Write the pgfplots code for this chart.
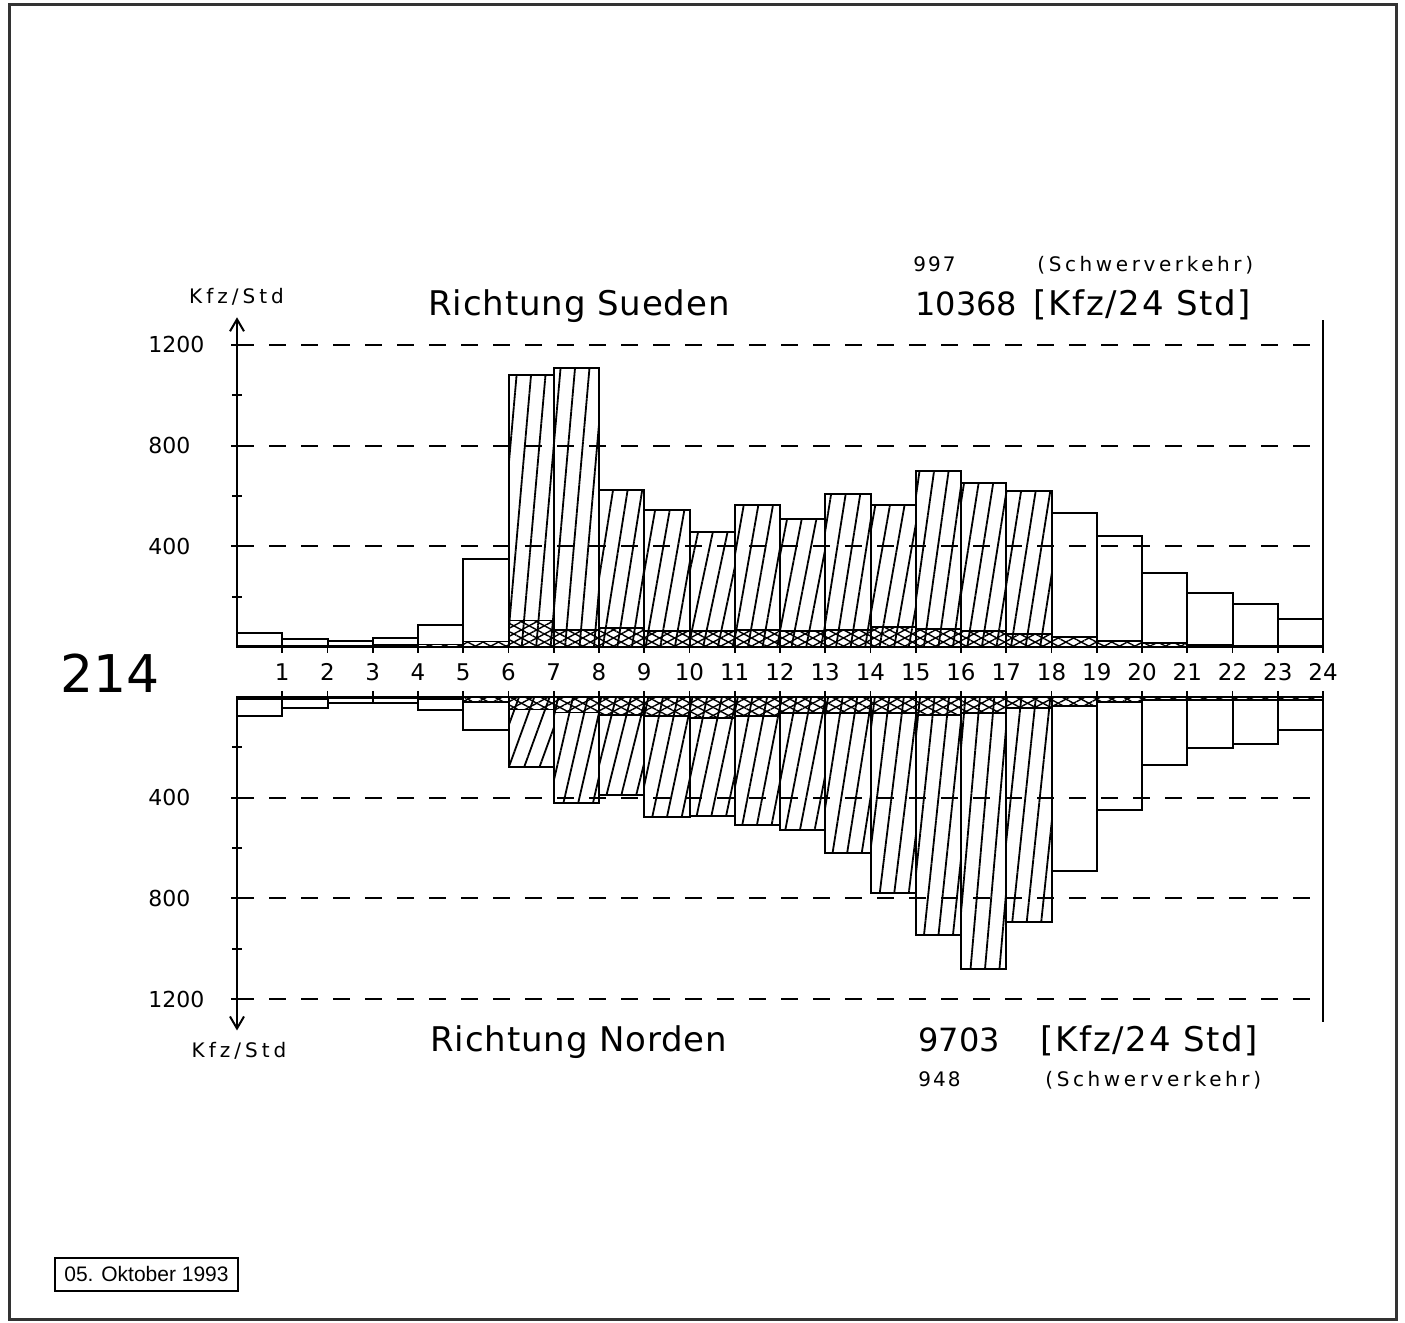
\documentclass[border=0pt]{standalone}
\usepackage{fontspec}
\usepackage{pgfplots}
\pgfplotsset{compat=1.18}
\usetikzlibrary{patterns.meta,arrows.meta}
\setmainfont{DejaVu Sans}
\newfontfamily\datefont{Liberation Sans}

\pgfplotsset{
  hb/.style={ybar, bar width=1, bar shift=0pt, draw=black, line width=1pt,
    pattern={Lines[angle=#1,distance=7.2pt,line width=0.9pt]}},
  wb/.style={ybar, bar width=1, bar shift=0pt, draw=black, line width=1pt, fill=none},
  sv/.style={ybar, bar width=1, bar shift=0pt, draw=black, line width=0.9pt,
    pattern={Lines[angle=28,distance=3.6pt,line width=0.7pt]},
    postaction={pattern={Lines[angle=-28,distance=3.6pt,line width=0.7pt]}}},
  common/.style={
    anchor=origin, x=22.625pt, y=0.125833pt,
    xmin=0, xmax=24, ymin=0,
    axis y line=left,
    y axis line style={-{Straight Barb[length=6pt,width=7pt,line width=1pt]}},
    xtick={1,...,24},
    ytick={400,800,1200}, yticklabels={400,800,1200},
    minor ytick={200,600,1000},
    tick align=center, major tick length=6pt, minor tick length=5pt,
    tick style={black, line width=0.9pt},
    ymajorgrids,
    grid style={black, line width=1.1pt, dash pattern=on 8.5pt off 7.5pt},
    axis line style={line width=1.1pt},
    /pgf/number format/assume math mode=true,
    yticklabel style={font=\fontsize{11}{12}\selectfont, anchor=west, inner sep=0pt, xshift=-41.5pt},
    clip=false,
  },
}

\begin{document}
\begin{tikzpicture}
\useasboundingbox (0,0) rectangle (702.5pt,661.5pt);
\draw[black!80, line width=1.5pt] (4.5pt,1.5pt) rectangle (698pt,659pt);

% ---------- Richtung Sueden ----------
\begin{axis}[common, at={(118.5pt,338pt)}, ymax=1310, axis x line*=bottom,
  xticklabel style={font=\fontsize{11.5}{12}\selectfont, text height=8.4pt, text depth=0pt, yshift=-2pt}]
\addplot[wb] coordinates {(0.5,56) (1.5,33) (2.5,25) (3.5,36) (4.5,87) (5.5,351)
  (18.5,533) (19.5,440) (20.5,293) (21.5,213) (22.5,169) (23.5,111)};
\addplot[hb=85] coordinates {(6.5,1080)};
\addplot[hb=85] coordinates {(7.5,1109)};
\addplot[hb=81] coordinates {(8.5,623)};
\addplot[hb=80] coordinates {(9.5,543)};
\addplot[hb=78] coordinates {(10.5,455)};
\addplot[hb=80] coordinates {(11.5,564)};
\addplot[hb=79] coordinates {(12.5,509)};
\addplot[hb=81] coordinates {(13.5,609)};
\addplot[hb=80] coordinates {(14.5,563)};
\addplot[hb=82] coordinates {(15.5,700)};
\addplot[hb=81] coordinates {(16.5,653)};
\addplot[hb=81] coordinates {(17.5,620)};
% Schwerverkehr
\addplot[sv] coordinates {(0.5,6) (1.5,5) (2.5,5) (3.5,8) (4.5,10) (5.5,22)
  (6.5,105) (7.5,68) (8.5,75) (9.5,62) (10.5,62) (11.5,67) (12.5,62) (13.5,68)
  (14.5,78) (15.5,72) (16.5,62) (17.5,52) (18.5,40) (19.5,25) (20.5,15) (21.5,8)
  (22.5,6) (23.5,5)};
\draw[black, line width=1.1pt] (axis cs:24,0) -- (axis cs:24,1300);
\end{axis}

% ---------- Richtung Norden ----------
\begin{axis}[common, at={(118.5pt,313pt)}, ymax=1325, y dir=reverse,
  axis x line*=top, xticklabels={}]
\addplot[wb] coordinates {(0.5,75) (1.5,44) (2.5,24) (3.5,24) (4.5,51) (5.5,131)
  (18.5,691) (19.5,449) (20.5,271) (21.5,204) (22.5,188) (23.5,131)};
\addplot[hb=70] coordinates {(6.5,277)};
\addplot[hb=77] coordinates {(7.5,421)};
\addplot[hb=76] coordinates {(8.5,390)};
\addplot[hb=78] coordinates {(9.5,477)};
\addplot[hb=78] coordinates {(10.5,471)};
\addplot[hb=79] coordinates {(11.5,507)};
\addplot[hb=79] coordinates {(12.5,528)};
\addplot[hb=81] coordinates {(13.5,618)};
\addplot[hb=83] coordinates {(14.5,780)};
\addplot[hb=84] coordinates {(15.5,946)};
\addplot[hb=85] coordinates {(16.5,1082)};
\addplot[hb=84] coordinates {(17.5,893)};
% Schwerverkehr
\addplot[sv] coordinates {(0.5,8) (1.5,8) (2.5,6) (3.5,6) (4.5,8) (5.5,20)
  (6.5,50) (7.5,62) (8.5,71) (9.5,75) (10.5,84) (11.5,77) (12.5,64) (13.5,65)
  (14.5,65) (15.5,70) (16.5,65) (17.5,44) (18.5,35) (19.5,20) (20.5,11) (21.5,11)
  (22.5,11) (23.5,11)};
\draw[black, line width=1.1pt] (axis cs:24,0) -- (axis cs:24,1290);
\end{axis}

% ---------- texts ----------
\node[anchor=base, inner sep=0pt, font=\fontsize{10}{12}\selectfont\addfontfeatures{LetterSpace=20}] at (118.25pt,509.5pt) {Kfz/Std};
\node[anchor=base west, inner sep=0pt, font=\fontsize{17}{20}\selectfont\addfontfeatures{LetterSpace=2.5}] at (214pt,503.5pt) {Richtung Sueden};
\node[anchor=base west, inner sep=0pt, font=\fontsize{10}{12}\selectfont\addfontfeatures{LetterSpace=10}] at (456.5pt,525.5pt) {997};
\node[anchor=base west, inner sep=0pt, font=\fontsize{10}{12}\selectfont\addfontfeatures{LetterSpace=18}] at (518.5pt,525.5pt) {(Schwerverkehr)};
\node[anchor=base west, inner sep=0pt, font=\fontsize{16}{20}\selectfont] at (457.5pt,503.5pt) {10368};
\node[anchor=base west, inner sep=0pt, font=\fontsize{17}{20}\selectfont\addfontfeatures{LetterSpace=5}] at (516.5pt,503.5pt) {[Kfz/24 Std]};

\node[anchor=base west, inner sep=0pt, font=\fontsize{26}{28}\selectfont] at (30pt,315pt) {214};

\node[anchor=base, inner sep=0pt, font=\fontsize{10}{12}\selectfont\addfontfeatures{LetterSpace=20}] at (119.5pt,132.5pt) {Kfz/Std};
\node[anchor=base west, inner sep=0pt, font=\fontsize{17}{20}\selectfont\addfontfeatures{LetterSpace=2.5}] at (215pt,135.5pt) {Richtung Norden};
\node[anchor=base west, inner sep=0pt, font=\fontsize{16}{20}\selectfont] at (459pt,135.5pt) {9703};
\node[anchor=base west, inner sep=0pt, font=\fontsize{17}{20}\selectfont\addfontfeatures{LetterSpace=5}] at (520pt,135.5pt) {[Kfz/24 Std]};
\node[anchor=base west, inner sep=0pt, font=\fontsize{10}{12}\selectfont\addfontfeatures{LetterSpace=10}] at (459pt,118pt) {948};
\node[anchor=base west, inner sep=0pt, font=\fontsize{10}{12}\selectfont\addfontfeatures{LetterSpace=18}] at (522.5pt,118pt) {(Schwerverkehr)};

\node[draw, line width=1.2pt, minimum width=91.5pt, minimum height=16.5pt, inner sep=0pt,
  font=\datefont\fontsize{10.5}{12}\selectfont] at (73.25pt,24.25pt) {05. Oktober 1993};
\end{tikzpicture}
\end{document}
